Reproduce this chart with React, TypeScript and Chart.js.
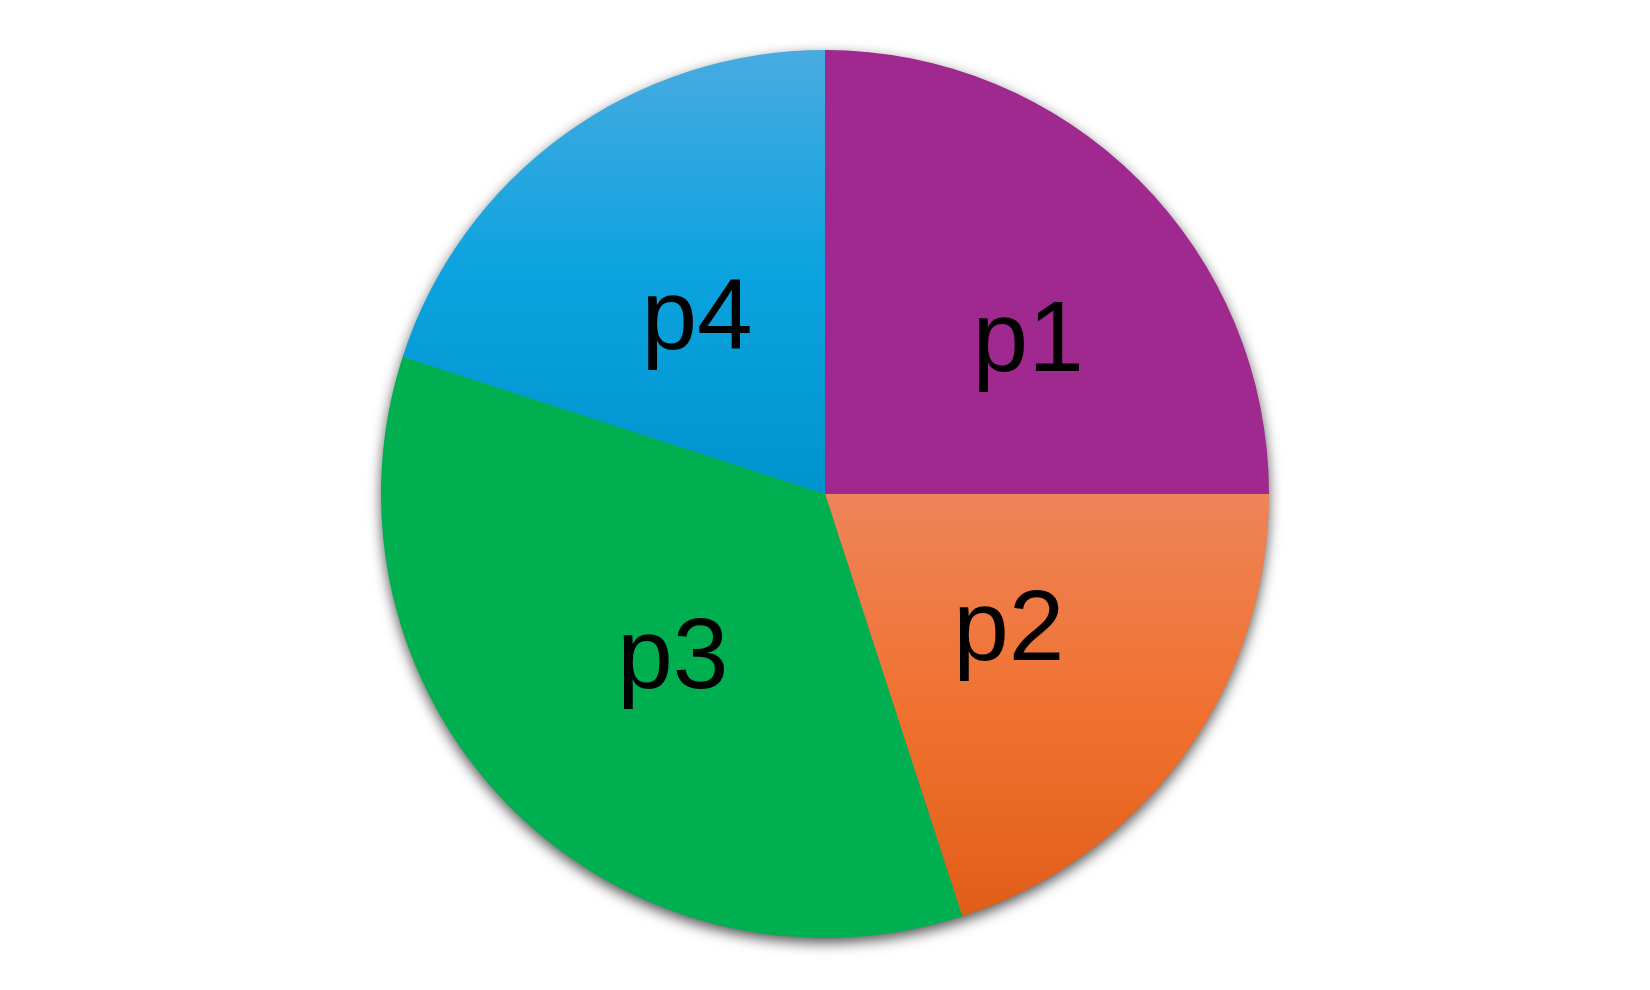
import React, { useEffect, useRef } from "react";
import { Chart, registerables } from "chart.js";

Chart.register(...registerables);

const categories = ["p1", "p2", "p3", "p4"];
const values = [25, 20, 35, 20];

// label placement tweaks (angle shift in degrees from slice middle, radius fraction)
const labelAngleShift = [7.0, 0, -1, 0];
const labelRadiusFrac = [0.575, 0.506, 0.5, 0.498];

function sliceFill(ctx: CanvasRenderingContext2D, index: number, top: number, bottom: number): string | CanvasGradient {
  if (index === 0) return "#A0298F";
  if (index === 2) return "#00AF50";
  const g = ctx.createLinearGradient(0, top, 0, bottom);
  if (index === 3) {
    g.addColorStop(0, "#48ABE0");
    g.addColorStop(0.25, "#0BA3DF");
    g.addColorStop(0.5, "#0094CE");
    g.addColorStop(1, "#0094CE");
  } else {
    g.addColorStop(0, "#EE8459");
    g.addColorStop(0.5, "#EE8459");
    g.addColorStop(0.75, "#F0712F");
    g.addColorStop(0.97, "#E15E18");
    g.addColorStop(1, "#E15E18");
  }
  return g;
}

const shadowPlugin = {
  id: "pieShadow",
  beforeDatasetsDraw(chart: any) {
    const meta = chart.getDatasetMeta(0);
    const arc = meta.data[0];
    if (!arc) return;
    const { x, y, outerRadius } = arc.getProps(["x", "y", "outerRadius"], true);
    const ctx = chart.ctx;
    ctx.save();
    ctx.shadowColor = "rgba(0,0,0,0.7)";
    ctx.shadowBlur = 14;
    ctx.shadowOffsetX = 0;
    ctx.shadowOffsetY = 5;
    ctx.fillStyle = "#777";
    ctx.beginPath();
    ctx.arc(x, y, outerRadius - 0.5, 0, Math.PI * 2);
    ctx.fill();
    ctx.restore();
  },
};

const labelPlugin = {
  id: "pieLabels",
  afterDatasetsDraw(chart: any) {
    const meta = chart.getDatasetMeta(0);
    const ctx = chart.ctx;
    ctx.save();
    ctx.fillStyle = "#000";
    ctx.font = '100px "Liberation Sans", Arial, sans-serif';
    ctx.textAlign = "center";
    ctx.textBaseline = "alphabetic";
    meta.data.forEach((el: any, i: number) => {
      const { x, y, startAngle, endAngle, outerRadius } = el.getProps(
        ["x", "y", "startAngle", "endAngle", "outerRadius"],
        true
      );
      const mid = (startAngle + endAngle) / 2 + (labelAngleShift[i] * Math.PI) / 180;
      const r = outerRadius * labelRadiusFrac[i];
      const lx = x + Math.cos(mid) * r;
      const ly = y + Math.sin(mid) * r;
      ctx.fillText(String(chart.data.labels[i]), lx + 2, ly + 34);
    });
    ctx.restore();
  },
};

export default function App() {
  const canvasRef = useRef<HTMLCanvasElement | null>(null);

  useEffect(() => {
    if (!canvasRef.current) return;
    const chart = new Chart(canvasRef.current, {
      type: "pie",
      data: {
        labels: categories,
        datasets: [
          {
            data: values,
            borderWidth: 0,
            backgroundColor: (c: any) => {
              const area = c.chart.chartArea;
              if (!area) return "#999";
              return sliceFill(c.chart.ctx, c.dataIndex, area.top, area.bottom);
            },
          },
        ],
      },
      options: {
        responsive: false,
        animation: false,
        layout: { padding: { top: 50, bottom: 52, left: 0, right: 0 } },
        plugins: {
          legend: { display: false },
          tooltip: { enabled: false },
          title: { display: false },
        },
        events: [],
      },
      plugins: [shadowPlugin, labelPlugin],
    });
    return () => chart.destroy();
  }, []);

  return (
    <div style={{ position: "absolute", left: 0, top: 0, width: 1650, height: 990, background: "#fff" }}>
      <canvas ref={canvasRef} width={1650} height={990} style={{ width: 1650, height: 990 }} />
    </div>
  );
}
